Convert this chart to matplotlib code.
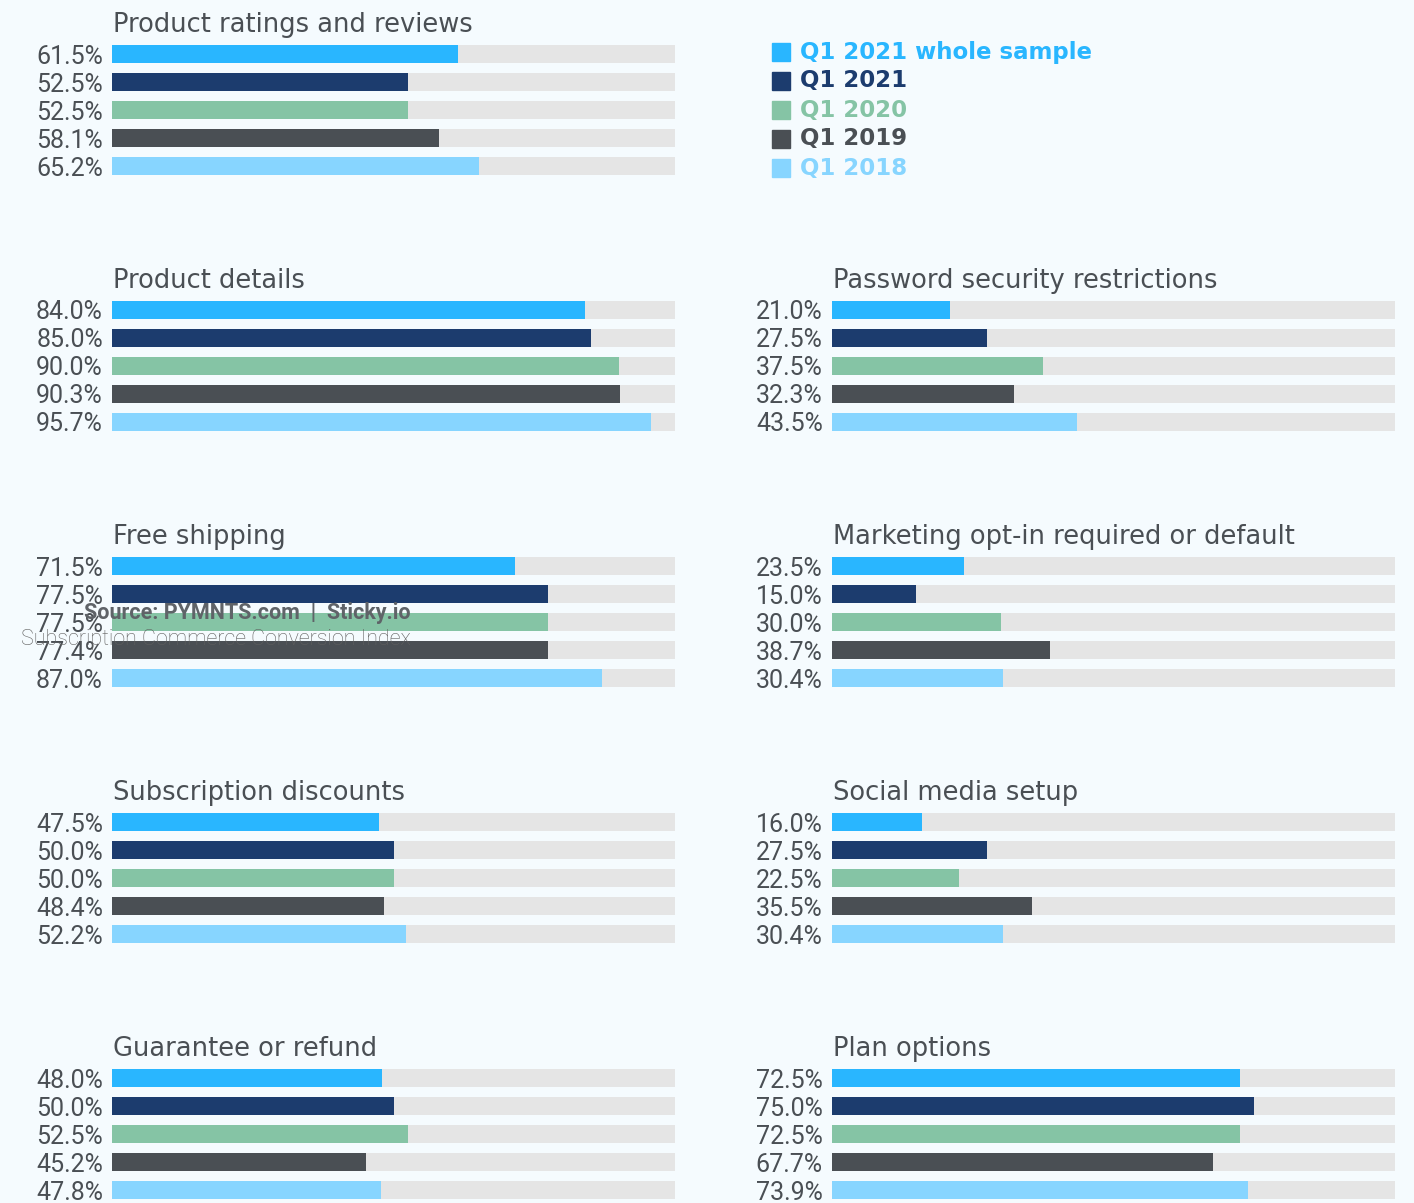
import matplotlib
matplotlib.use("Agg")
import matplotlib.pyplot as plt

W, H = 1414, 1203
BG = "#F5FBFE"
TRACK = "#E5E5E5"
TEXT = "#4A4F54"

series = ["Q1 2021 whole sample", "Q1 2021", "Q1 2020", "Q1 2019", "Q1 2018"]
colors = ["#29B6FF", "#1C3C6E", "#85C4A5", "#4A4F54", "#87D5FF"]

titles = [
    "Product ratings and reviews",
    "Product details",
    "Password security restrictions",
    "Free shipping",
    "Marketing opt-in required or default",
    "Subscription discounts",
    "Social media setup",
    "Guarantee or refund",
    "Plan options",
]
product_ratings = [61.5, 52.5, 52.5, 58.1, 65.2]
product_details = [84.0, 85.0, 90.0, 90.3, 95.7]
password_security = [21.0, 27.5, 37.5, 32.3, 43.5]
free_shipping = [71.5, 77.5, 77.5, 77.4, 87.0]
marketing_optin = [23.5, 15.0, 30.0, 38.7, 30.4]
subscription_discounts = [47.5, 50.0, 50.0, 48.4, 52.2]
social_media = [16.0, 27.5, 22.5, 35.5, 30.4]
guarantee_refund = [48.0, 50.0, 52.5, 45.2, 47.8]
plan_options = [72.5, 75.0, 72.5, 67.7, 73.9]
values = [product_ratings, product_details, password_security, free_shipping,
          marketing_optin, subscription_discounts, social_media,
          guarantee_refund, plan_options]
# grid placement (row, col)
cells = [(0, 0), (1, 0), (1, 1), (2, 0), (2, 1), (3, 0), (3, 1), (4, 0), (4, 1)]

source_line1 = "Source: PYMNTS.com  |  Sticky.io"
source_line2 = "Subscription Commerce Conversion Index"

fig = plt.figure(figsize=(W / 100, H / 100), dpi=100)
fig.patch.set_facecolor(BG)

def fx(x):
    return x / W

def fy(y):
    return 1 - y / H

col_x = [112, 832]
col_w = 563
row_y0 = [54, 310, 566, 822, 1078]
step = 28

for title, vals, (r, c) in zip(titles, values, cells):
    left = col_x[c]
    top = row_y0[r] - step / 2
    bottom = top + step * 5
    ax = fig.add_axes([fx(left), fy(bottom), col_w / W, (bottom - top) / H])
    ax.set_facecolor("none")
    ypos = list(range(5))
    ax.barh(ypos, [100] * 5, height=0.66, color=TRACK, zorder=1)
    ax.barh(ypos, vals, height=0.66, color=colors, zorder=2)
    ax.set_xlim(0, 100)
    ax.set_ylim(4.5, -0.5)
    ax.set_xticks([])
    ax.set_yticks(ypos)
    ax.set_yticklabels([f"{v:.1f}%" for v in vals], fontsize=18,
                       color=TEXT, family="Roboto")
    ax.tick_params(axis="y", length=0, pad=6.5)
    for s in ax.spines.values():
        s.set_visible(False)
    fig.text(fx(left + 1), fy(row_y0[r] - 22), title, fontsize=18.5,
             color=TEXT, family="DejaVu Sans", va="baseline", ha="left")

# legend
for i, (name, col) in enumerate(zip(series, colors)):
    yc = 52 + i * 29
    fig.patches.append(plt.Rectangle((fx(772), fy(yc + 9)), 18 / W, 18 / H,
                                     transform=fig.transFigure, color=col))
    fig.text(fx(800), fy(yc), name, fontsize=16.5, fontweight="bold",
             color=col, family="DejaVu Sans", va="center", ha="left")

fig.text(fx(411), fy(613), source_line1, fontsize=15.5, fontweight="bold",
         color="#5F6368", family="Roboto", va="center", ha="right")
fig.text(fx(411), fy(640), source_line2, fontsize=15.5, fontweight="light",
         color="#5F5F5F", family="Roboto", va="center", ha="right")

fig.savefig("out.png", dpi=100, facecolor=BG)
